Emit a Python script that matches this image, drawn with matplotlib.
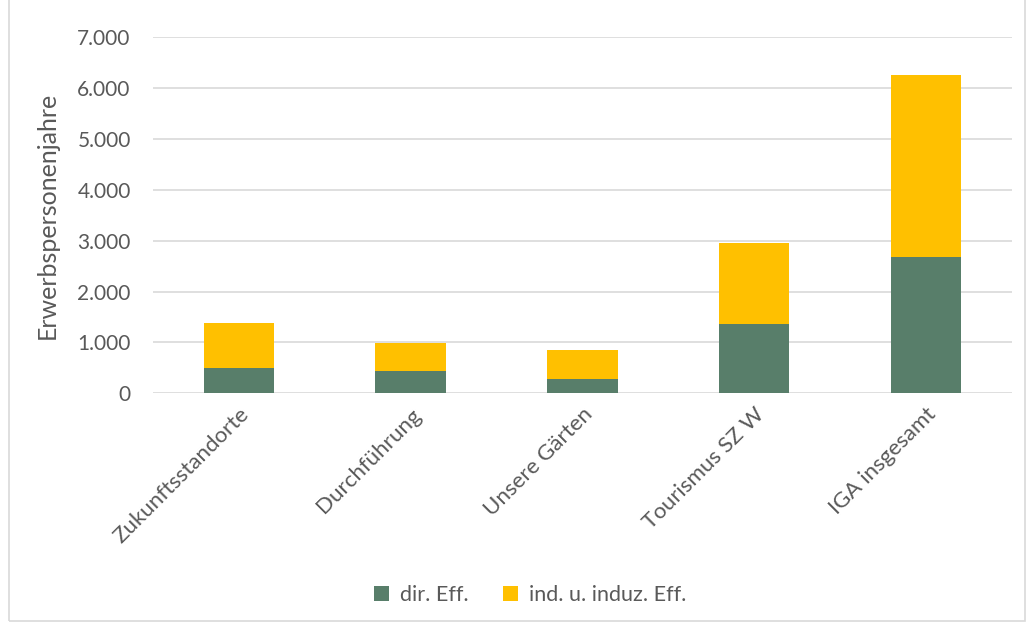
import matplotlib.pyplot as plt
from matplotlib.patches import Rectangle
from matplotlib.ticker import FuncFormatter

categories = ["Zukunftsstandorte", "Durchführung", "Unsere Gärten", "Tourismus SZ W", "IGA insgesamt"]
direct = [503, 440, 287, 1356, 2672]
indirect = [884, 548, 570, 1597, 3581]
series_names = ["dir. Eff.", "ind. u. induz. Eff."]

green = "#587E6A"
yellow = "#FFC000"
text_color = "#595959"

plt.rcParams["font.family"] = ["Lato", "DejaVu Sans"]

figure = plt.figure(figsize=(10.3, 6.26), dpi=100)
axis = figure.add_axes([0.1485, 0.3717, 0.834, 0.5687])

x = range(len(categories))
axis.bar(x, direct, width=0.41, color=green, label=series_names[0], zorder=3)
axis.bar(x, indirect, width=0.41, bottom=direct, color=yellow, label=series_names[1], zorder=3)

axis.set_xlim(-0.5, len(categories) - 0.5)
axis.set_ylim(0, 7000)
axis.set_yticks(range(0, 7001, 1000))
axis.yaxis.set_major_formatter(FuncFormatter(lambda v, _: f"{int(v):,}".replace(",", ".")))
axis.grid(True, axis="y", color="#D9D9D9", linewidth=1.2, zorder=0)
for spine in axis.spines.values():
    spine.set_visible(False)
axis.tick_params(axis="both", length=0, colors=text_color, labelsize=15)
axis.tick_params(axis="y", pad=16)
axis.set_xticks(list(x))
axis.set_xticklabels(categories, rotation=45, ha="right", rotation_mode="anchor", fontsize=16)
axis.tick_params(axis="x", pad=8)
axis.set_ylabel("Erwerbspersonenjahre", color=text_color, fontsize=18)
axis.yaxis.set_label_coords(-0.110, 0.5)

axis.legend(loc="center", bbox_to_anchor=(0.515, 0.05), bbox_transform=figure.transFigure,
            ncol=2, frameon=False, fontsize=15.5, handlelength=0.7, handleheight=0.7,
            columnspacing=1.6, handletextpad=0.5, labelcolor=text_color)

figure.patches.append(Rectangle((0.009, 0.008), 0.986, 1.1, transform=figure.transFigure,
                                fill=False, edgecolor="#D9D9D9", linewidth=1.2))

figure.savefig("out.png", dpi=100)
plt.close(figure)
